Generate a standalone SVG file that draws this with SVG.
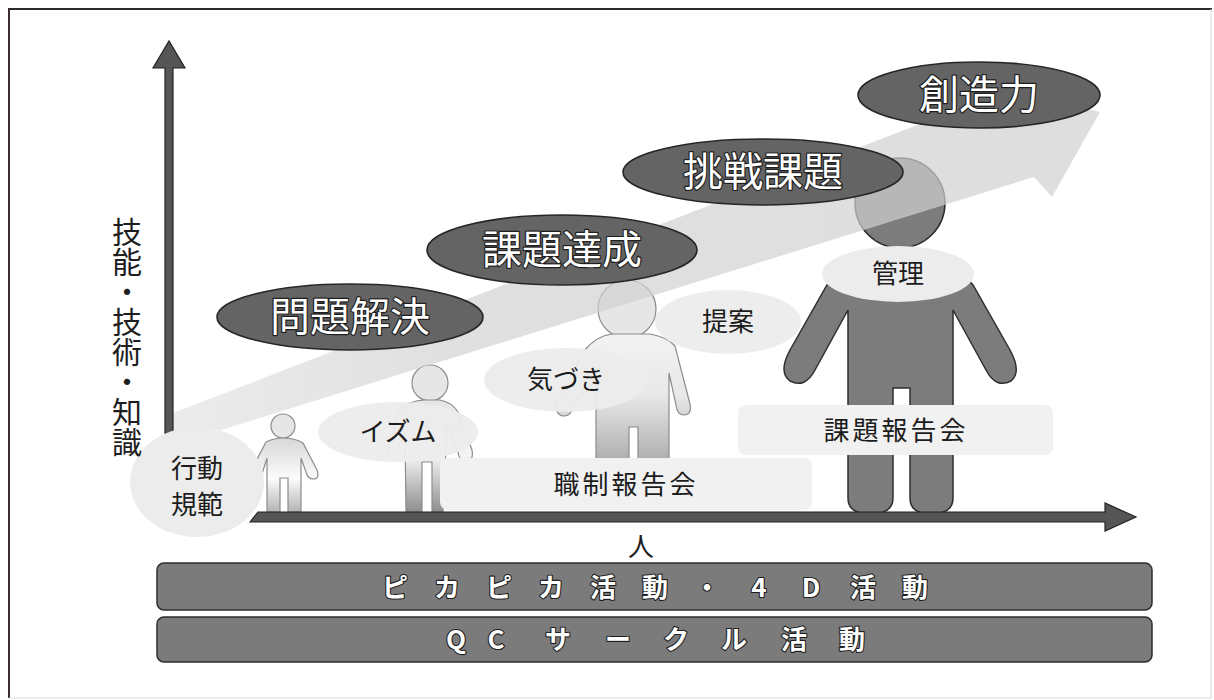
<svg xmlns="http://www.w3.org/2000/svg" width="1214" height="700" viewBox="0 0 1214 700">
  <style>
    text { font-family: "Noto Sans CJK JP", "Noto Sans", sans-serif; }
    .dark { fill: #646464; stroke: #262626; stroke-width: 1.6; }
    .dark-label { fill: #ffffff; stroke: #1e1e1e; stroke-width: 2.4; paint-order: stroke; stroke-linejoin: round; font-size: 40px; text-anchor: middle; }
    .soft { fill: #ececec; }
    .soft-label { fill: #1c1c1c; font-size: 26px; text-anchor: middle; }
    .report { fill: #f1f1f1; }
    .bar { fill: #7b7b7b; stroke: #2e2e2e; stroke-width: 1.5; }
    .bar-label { fill: #ffffff; stroke: #1e1e1e; stroke-width: 2.2; paint-order: stroke; stroke-linejoin: round; font-size: 26px; font-weight: bold; text-anchor: middle; }
    .axis { fill: #555555; stroke: #222222; stroke-width: 1.2; }
    .axis-label { fill: #1e1e1e; text-anchor: middle; }
    .fig-line { stroke: #8c8c8c; stroke-width: 1.2; }
    .fig-head { fill: #e6e6e6; stroke: #8c8c8c; stroke-width: 1.2; }
  </style>
  <defs>
    <linearGradient id="fig1" x1="0" y1="0" x2="0" y2="1">
      <stop offset="0" stop-color="#d8d8d8"/>
      <stop offset="0.55" stop-color="#fbfbfb"/>
      <stop offset="1" stop-color="#b4b4b4"/>
    </linearGradient>
    <linearGradient id="fig2" x1="0" y1="0" x2="0" y2="1">
      <stop offset="0" stop-color="#e4e4e4"/>
      <stop offset="0.5" stop-color="#f4f4f4"/>
      <stop offset="1" stop-color="#8e8e8e"/>
    </linearGradient>
    <linearGradient id="fig3" x1="0" y1="0" x2="0" y2="1">
      <stop offset="0" stop-color="#f2f2f2"/>
      <stop offset="0.45" stop-color="#e8e8e8"/>
      <stop offset="1" stop-color="#a6a6a6"/>
    </linearGradient>
    <linearGradient id="bandFill" x1="0" y1="0" x2="1" y2="0">
      <stop offset="0" stop-color="#dcdcdc" stop-opacity="0.55"/>
      <stop offset="0.3" stop-color="#d2d2d2" stop-opacity="0.7"/>
      <stop offset="1" stop-color="#d0d0d0" stop-opacity="0.7"/>
    </linearGradient>
  </defs>

  <rect width="1214" height="700" fill="#ffffff"/>

  <!-- outer frame -->
  <g id="frame">
    <line x1="8" y1="9" x2="1212" y2="9" stroke="#2a2a2a" stroke-width="2"/>
    <line x1="9" y1="9" x2="9" y2="698" stroke="#3a2a2e" stroke-width="2"/>
    <line x1="1211" y1="9" x2="1211" y2="698" stroke="#d4d4d4" stroke-width="1"/>
    <line x1="9" y1="698" x2="1211" y2="698" stroke="#dddddd" stroke-width="1"/>
  </g>

  <!-- figures, smallest to largest -->
  <g id="person-1">
    <circle cx="283" cy="426" r="12" class="fig-head"/>
    <path d="M266,442 C272,439 278,438 283,438 C290,438 298,440 303,443 L317,470 Q320,479 313,479 Q308,479 306,472 L301,458 L301,512 L288,512 L288,478 L280,478 L280,512 L267,512 L267,458 L262,474 Q259,480 254,477 Q250,474 253,467 Z" fill="url(#fig1)" class="fig-line"/>
  </g>
  <g id="person-2">
    <circle cx="430" cy="383" r="18" class="fig-head"/>
    <path d="M398,412 C406,403 416,400 425,400 L440,400 C450,402 455,407 458,412 L472,450 Q474,461 466,461 Q459,461 458,452 L447,425 L443,512 L432,512 L432,462 L422,462 L422,512 L406,512 L405,432 L396,452 Q392,458 388,452 Z" fill="url(#fig2)" class="fig-line"/>
  </g>
  <g id="person-3">
    <circle cx="627" cy="309" r="29" class="fig-head"/>
    <path d="M583,352 C592,341 603,335 612,334 L650,334 C661,336 670,340 675,346 L690,404 Q692,415 684,415 Q677,415 676,405 L669,373 L669,470 L638,470 L638,427 L629,427 L629,470 L596,470 L596,380 L573,405 Q572,416 564,416 Q556,416 556,404 Z" fill="url(#fig3)" class="fig-line"/>
  </g>
  <g id="person-4">
    <circle cx="900" cy="203" r="45" fill="#7c7c7c" stroke="#2e2e2e" stroke-width="1.5"/>
    <path d="M870,262 C852,265 836,274 827,285 L790,350 Q778,372 790,381 Q805,389 815,370 L848,310 L848,498 Q848,514 870,514 Q893,514 893,498 L893,388 L910,388 L910,498 Q910,514 931,514 Q953,514 953,498 L953,310 L986,370 Q996,389 1011,381 Q1022,372 1010,350 L973,285 C964,274 948,265 930,262 Z" fill="#7c7c7c" stroke="#2e2e2e" stroke-width="1.5"/>
  </g>

  <!-- rising growth arrow, translucent over the figures -->
  <g id="growth-arrow">
    <path d="M173,413 L969,105 L942,75 L1100,112 L1052,197 L1034,177 L173,445 Z" fill="url(#bandFill)"/>
  </g>

  <!-- axes -->
  <g id="connectors">
    <path class="axis" d="M165,520 L165,68 L153,68 L169,41 L185,68 L173,68 L173,520 Z"/>
    <path class="axis" d="M250,522 L258,512 L1105,512 L1105,503 L1136,517 L1105,531 L1105,522 Z"/>
  </g>

  <!-- stage labels on the arrow -->
  <g id="stage-mondai">
    <ellipse class="dark" cx="350" cy="317" rx="133" ry="33"/>
    <text class="dark-label" x="350" y="331">問題解決</text>
  </g>
  <g id="stage-kadai">
    <ellipse class="dark" cx="562" cy="250" rx="135" ry="35"/>
    <text class="dark-label" x="562" y="264">課題達成</text>
  </g>
  <g id="stage-chosen">
    <ellipse class="dark" cx="763" cy="172" rx="140" ry="33"/>
    <text class="dark-label" x="763" y="186">挑戦課題</text>
  </g>
  <g id="stage-sozo">
    <ellipse class="dark" cx="979" cy="95" rx="121" ry="33"/>
    <text class="dark-label" x="979" y="109">創造力</text>
  </g>

  <!-- traits per figure -->
  <g id="trait-kodo">
    <ellipse class="soft" cx="197" cy="482" rx="67" ry="55"/>
    <text class="soft-label" x="197" y="478">行動</text>
    <text class="soft-label" x="197" y="514">規範</text>
  </g>
  <g id="trait-ism">
    <ellipse class="soft" cx="398" cy="432" rx="80" ry="30" opacity="0.95"/>
    <text class="soft-label" x="398" y="441">イズム</text>
  </g>
  <g id="trait-kizuki">
    <ellipse class="soft" cx="566" cy="380" rx="82" ry="32" opacity="0.95"/>
    <text class="soft-label" x="566" y="389">気づき</text>
  </g>
  <g id="trait-teian">
    <ellipse class="soft" cx="728" cy="322" rx="73" ry="32" opacity="0.95"/>
    <text class="soft-label" x="728" y="331">提案</text>
  </g>
  <g id="trait-kanri">
    <ellipse class="soft" cx="898" cy="274" rx="76" ry="28"/>
    <text class="soft-label" x="898" y="283">管理</text>
  </g>

  <!-- report meetings -->
  <g id="report-shokusei">
    <rect class="report" x="440" y="458" width="372" height="52" rx="8"/>
    <text class="soft-label" x="626" y="494" letter-spacing="3">職制報告会</text>
  </g>
  <g id="report-kadai">
    <rect class="report" x="738" y="405" width="315" height="50" rx="8"/>
    <text class="soft-label" x="896" y="440" letter-spacing="3">課題報告会</text>
  </g>

  <!-- axis labels -->
  <g id="label-x">
    <text class="axis-label" x="641" y="556" font-size="26">人</text>
  </g>
  <g id="label-y">
    <text x="127" y="217" font-size="30" fill="#1e1e1e" writing-mode="vertical-rl">技能・技術・知識</text>
  </g>

  <!-- foundation activities -->
  <g id="base-pikapika">
    <rect class="bar" x="157" y="563" width="995" height="47" rx="7"/>
    <text class="bar-label" y="597" x="395 447 499 551 603 655 707 759 811 863 915">ピカピカ活動・4D活動</text>
  </g>
  <g id="base-qc">
    <rect class="bar" x="157" y="617" width="995" height="45" rx="7"/>
    <text class="bar-label" y="649" x="456 496 558 618 676 734 794 852">QCサークル活動</text>
  </g>
</svg>
